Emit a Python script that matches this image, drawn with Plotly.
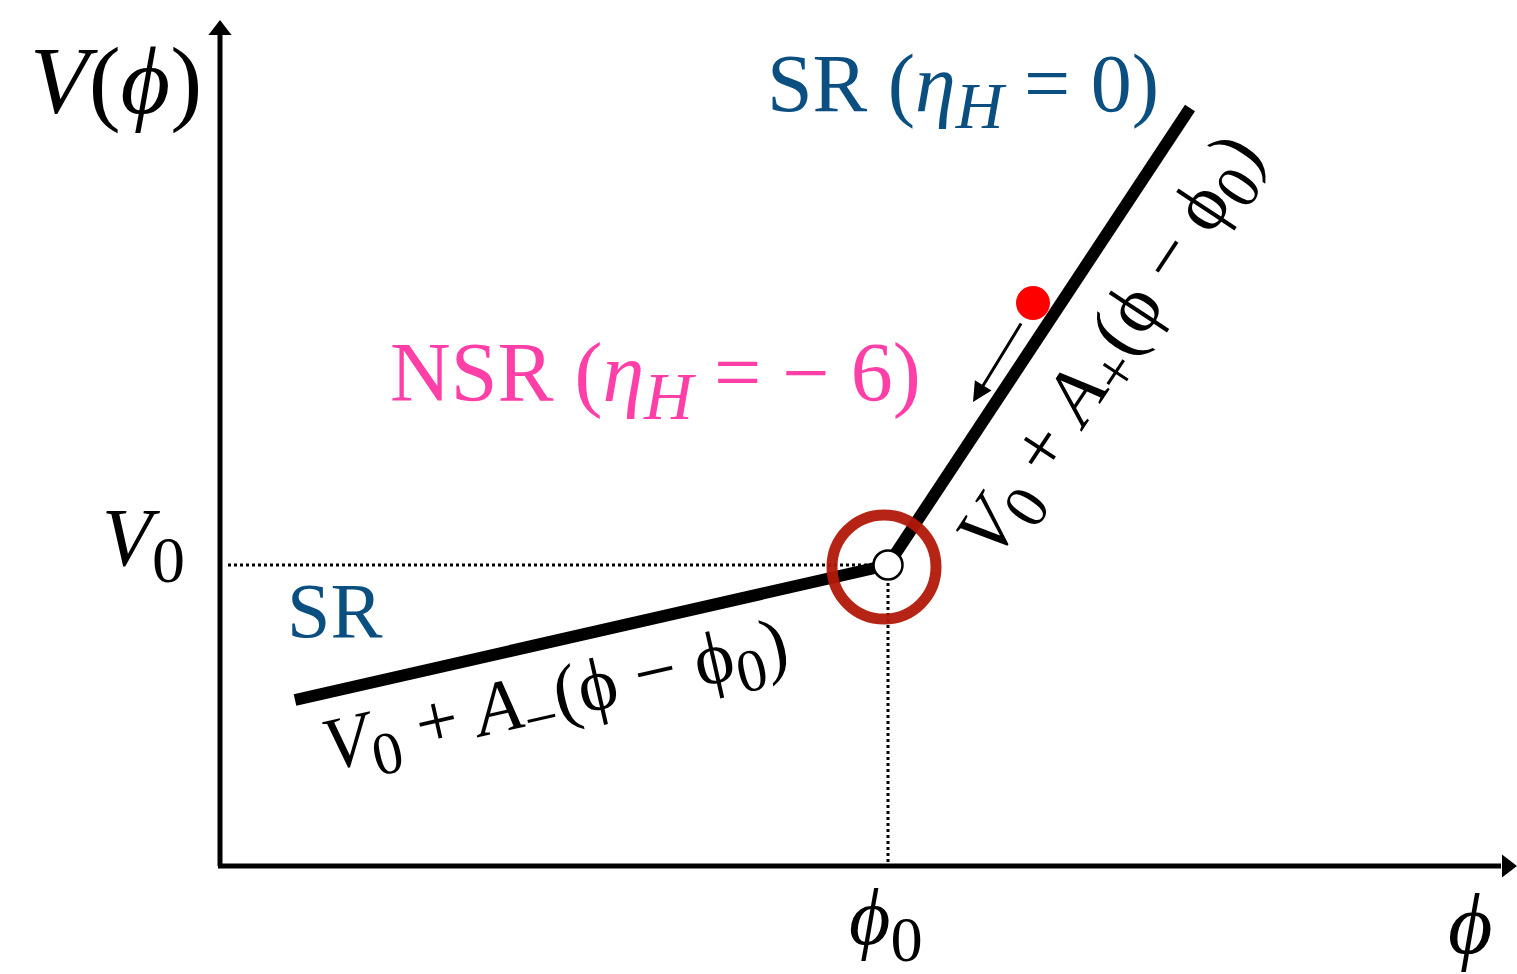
import plotly.graph_objects as go

W, H = 1517, 974

# schematic coordinates (pixel-like units, y up)
ORIGIN = (220, 108)
X_END = 1515
Y_END = 954
PHI0, V0 = 888, 409

left_phi = [295, PHI0]
left_V = [274, V0]
right_phi = [PHI0, 1190]
right_V = [V0, 866]

ball_phi, ball_V = [1033], [671]
arrow_from = (1022, 652)
arrow_to = (973, 572)

BLUE = "#0b4f81"
PINK = "#ff3fa8"
RING = "rgba(178,24,8,0.95)"
SERIF = "Liberation Serif"

fig = go.Figure()

# axes
fig.add_trace(go.Scatter(x=[ORIGIN[0], ORIGIN[0]], y=[ORIGIN[1], Y_END - 14], mode="lines",
                         line=dict(color="black", width=5), hoverinfo="skip"))
fig.add_trace(go.Scatter(x=[ORIGIN[0] - 2, X_END - 14], y=[ORIGIN[1], ORIGIN[1]], mode="lines",
                         line=dict(color="black", width=5), hoverinfo="skip"))
fig.add_trace(go.Scatter(x=[ORIGIN[0]], y=[Y_END - 10], mode="markers",
                         marker=dict(symbol="triangle-up", size=20, color="black"), hoverinfo="skip"))
fig.add_trace(go.Scatter(x=[X_END - 8], y=[ORIGIN[1]], mode="markers",
                         marker=dict(symbol="triangle-right", size=20, color="black"), hoverinfo="skip"))

# dotted guides
fig.add_trace(go.Scatter(x=[228, PHI0], y=[V0, V0], mode="lines",
                         line=dict(color="black", width=3, dash="dot"), hoverinfo="skip"))
fig.add_trace(go.Scatter(x=[PHI0, PHI0], y=[V0, ORIGIN[1]], mode="lines",
                         line=dict(color="black", width=3, dash="dot"), hoverinfo="skip"))

# potential
fig.add_trace(go.Scatter(x=left_phi, y=left_V, mode="lines",
                         line=dict(color="black", width=12), hoverinfo="skip"))
fig.add_trace(go.Scatter(x=right_phi, y=right_V, mode="lines",
                         line=dict(color="black", width=12), hoverinfo="skip"))

# red ring
fig.add_trace(go.Scatter(x=[PHI0 - 4], y=[V0 - 2], mode="markers",
                         marker=dict(symbol="circle-open", size=104, color=RING,
                                     line=dict(width=11, color=RING)), hoverinfo="skip"))
# open junction circle
fig.add_trace(go.Scatter(x=[PHI0], y=[V0], mode="markers",
                         marker=dict(symbol="circle", size=29, color="white",
                                     line=dict(width=2.5, color="black")), hoverinfo="skip"))
# ball
fig.add_trace(go.Scatter(x=ball_phi, y=ball_V, mode="markers",
                         marker=dict(symbol="circle", size=34, color="#ff0000"), hoverinfo="skip"))

ann = []
# arrow
ann.append(dict(x=arrow_to[0], y=arrow_to[1], ax=arrow_from[0], ay=arrow_from[1],
                xref="x", yref="y", axref="x", ayref="y", showarrow=True,
                arrowhead=2, arrowsize=1.3, arrowwidth=3, arrowcolor="black", text=""))


def txt(x, y, s, size, color="black", angle=0, family=SERIF):
    ann.append(dict(x=x, y=y, xref="x", yref="y", text=s, showarrow=False,
                    textangle=angle, xanchor="center", yanchor="middle",
                    font=dict(family=family, size=size, color=color)))


SUB = "<sub><span style='font-size:1.15em'>%s</span></sub>"

txt(116, 894, "<i>V</i>(<i>ϕ</i>)", 96)
txt(143, 430, "<i>V</i>" + SUB % "0", 82)
txt(886, 50, "<i>ϕ</i>" + SUB % "0", 80)
txt(1470, 50, "<i>ϕ</i>", 86)
txt(963, 884, "SR (<i>η</i>" + SUB % "<i>H</i>" + " = 0)", 82, BLUE)
txt(655, 594, "NSR (<i>η</i>" + SUB % "<i>H</i>" + " = − 6)", 84, PINK)
txt(334, 364, "SR", 78, BLUE)
txt(556, 274, "<i>V</i>" + SUB % "0" + " + <i>A</i>" + SUB % "−" + "(ϕ − ϕ" + SUB % "0" + ")", 75, angle=-12.8)
txt(1113, 626, "<i>V</i>" + SUB % "0" + " + <i>A</i>" + SUB % "+" + "(ϕ − ϕ" + SUB % "0" + ")", 77, angle=-56.5)

fig.update_layout(
    width=W, height=H, margin=dict(l=0, r=0, t=0, b=0),
    paper_bgcolor="white", plot_bgcolor="white", showlegend=False,
    xaxis=dict(range=[0, W], visible=False, fixedrange=True),
    yaxis=dict(range=[0, H], visible=False, fixedrange=True),
    annotations=ann,
)

fig.write_html("out.html")
